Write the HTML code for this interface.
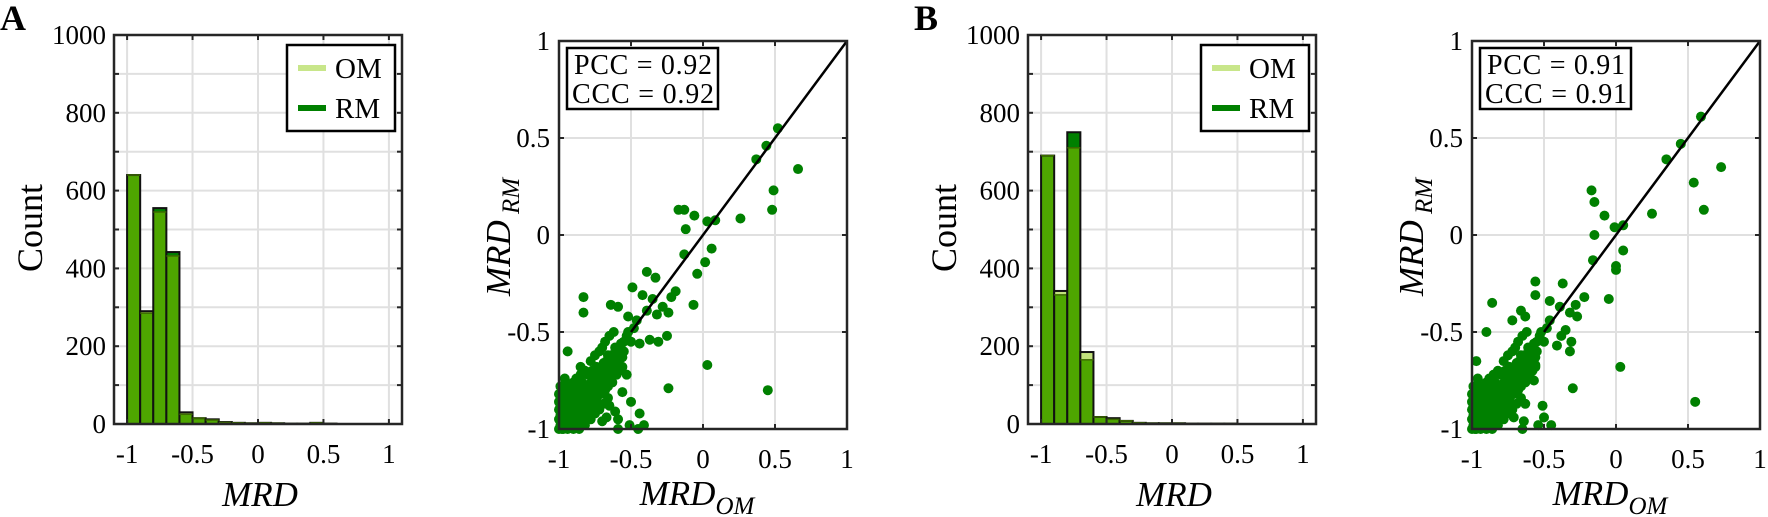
<!DOCTYPE html>
<html><head><meta charset="utf-8">
<style>
body{margin:0;background:#fff;}
svg{display:block;font-family:"Liberation Serif",serif;}
</style></head>
<body>
<svg id="fig" width="1768" height="517" viewBox="0 0 1768 517" xmlns="http://www.w3.org/2000/svg">
<text x="0" y="30" font-size="36" font-weight="bold">A</text>
<text x="914" y="30" font-size="36" font-weight="bold">B</text>
</svg>
<script>
const binStarts = [-1,-0.9,-0.8,-0.7,-0.6,-0.5,-0.4,-0.3,-0.2,-0.1,0,0.1,0.2,0.3,0.4,0.5,0.6,0.7,0.8,0.9];
const histA_OM = [640,290,545,432,30,15,10,4,3,2,3,2,1,1,3,1,0,0,0,0];
const histA_RM = [640,285,555,442,25,15,12,5,3,2,3,2,1,1,3,1,0,0,0,0];
const histB_OM = [690,342,710,185,18,12,8,3,2,2,2,1,1,1,1,0,0,0,0,0];
const histB_RM = [690,332,750,165,18,15,8,3,2,2,2,1,1,1,1,0,0,0,0,0];
const histYTicks = [0,200,400,600,800,1000];
const histXTicks = [-1,-0.5,0,0.5,1];
const scatTicks = [-1,-0.5,0,0.5,1];
const statsA = ["PCC = 0.92","CCC = 0.92"];
const statsB = ["PCC = 0.91","CCC = 0.91"];
const clusterA = [[-1,-1],[-0.98,-0.97],[-0.97,-1],[-0.99,-0.93],[-0.96,-0.95],[-0.95,-0.99],[-0.94,-0.9],[-0.93,-0.96],[-0.92,-0.92],[-0.91,-0.87],[-0.9,-0.95],[-0.89,-0.9],[-0.88,-0.84],[-0.87,-0.93],[-0.86,-0.88],[-0.85,-0.82],[-0.84,-0.9],[-0.83,-0.86],[-0.82,-0.8],[-0.81,-0.88],[-0.8,-0.84],[-0.79,-0.77],[-0.78,-0.85],[-0.77,-0.8],[-0.76,-0.74],[-0.75,-0.82],[-0.74,-0.78],[-0.73,-0.71],[-0.72,-0.79],[-0.71,-0.75],[-0.7,-0.68],[-0.69,-0.76],[-0.68,-0.72],[-0.67,-0.65],[-0.66,-0.73],[-0.65,-0.69],[-0.64,-0.62],[-0.63,-0.7],[-0.62,-0.66],[-0.6,-0.6],[-0.58,-0.64],[-0.57,-0.56],[-0.55,-0.6],[-0.53,-0.52],[-0.5,-0.55],[-0.48,-0.48],[-0.46,-0.44],[-0.98,-0.85],[-0.96,-0.8],[-0.92,-0.78],[-0.88,-0.74],[-0.85,-0.72],[-0.82,-0.7],[-0.78,-0.65],[-0.75,-0.62],[-0.72,-0.6],[-0.7,-0.58],[-0.68,-0.55],[-0.65,-0.52],[-0.62,-0.5],[-0.99,-0.98],[-0.97,-0.9],[-0.95,-0.86],[-0.93,-0.83],[-0.9,-0.8],[-0.88,-0.98],[-0.85,-0.95],[-0.82,-0.93],[-0.8,-0.9],[-0.77,-0.88],[-0.74,-0.85],[-0.71,-0.82],[-0.68,-0.8],[-0.66,-0.78],[-0.63,-0.76],[-0.6,-0.72],[-0.58,-0.7],[-0.56,-0.68],[-1,-0.9],[-1,-0.95],[-0.98,-1],[-0.94,-1],[-0.9,-1],[-0.86,-1],[-0.82,-0.98],[-0.78,-0.95],[-0.75,-0.92],[-0.72,-0.9],[-0.69,-0.87],[-0.66,-0.84],[-0.97,-0.96],[-0.95,-0.93],[-0.93,-0.9],[-0.91,-0.93],[-0.89,-0.86],[-0.87,-0.82],[-0.86,-0.92],[-0.84,-0.84],[-0.83,-0.78],[-0.81,-0.83],[-0.79,-0.81],[-0.77,-0.75],[-0.76,-0.84],[-0.74,-0.72],[-0.73,-0.8],[-0.71,-0.7],[-0.7,-0.77],[-0.69,-0.66],[-0.67,-0.7],[-0.66,-0.62],[-0.64,-0.67],[-0.62,-0.63],[-0.61,-0.58],[-0.59,-0.62],[-0.57,-0.6],[-0.55,-0.55],[-0.52,-0.5],[-0.99,-0.88],[-0.97,-0.83],[-0.95,-0.78],[-0.92,-0.85],[-0.9,-0.76],[-0.87,-0.78],[-0.84,-0.76],[-0.8,-0.72],[-0.77,-0.7],[-0.74,-0.68],[-0.92,-0.97],[-0.89,-0.95],[-0.87,-0.97],[-0.84,-0.97],[-0.8,-0.95],[-0.77,-0.92],[-0.73,-0.88],[-1,-0.86],[-1,-0.82],[-0.99,-0.78],[-0.96,-0.74],[-0.94,-0.97],[-0.96,-0.91],[-0.91,-0.83],[-0.79,-0.86],[-0.75,-0.78],[-0.71,-0.78],[-0.68,-0.75],[-0.65,-0.74],[-0.62,-0.7],[-0.6,-0.66],[-0.58,-0.58],[-0.56,-0.63]];
const outA = [[0.52,0.55],[0.44,0.46],[0.37,0.39],[0.66,0.34],[0.49,0.23],[0.48,0.13],[0.26,0.085],[0.085,0.076],[0.03,0.07],[-0.06,0.1],[-0.17,0.13],[-0.13,0.13],[-0.12,0.03],[0.06,-0.07],[-0.13,-0.1],[0.015,-0.14],[-0.04,-0.2],[-0.066,-0.36],[-0.39,-0.19],[-0.33,-0.22],[-0.49,-0.27],[-0.42,-0.31],[-0.35,-0.33],[-0.19,-0.29],[-0.22,-0.32],[-0.83,-0.32],[-0.83,-0.4],[-0.64,-0.36],[-0.59,-0.37],[-0.28,-0.37],[-0.24,-0.4],[-0.52,-0.42],[-0.39,-0.39],[-0.32,-0.41],[-0.25,-0.52],[-0.37,-0.54],[-0.31,-0.55],[-0.44,-0.56],[0.03,-0.67],[-0.24,-0.79],[0.45,-0.8],[-0.94,-0.6],[-0.5,-0.86],[-0.44,-0.92],[-0.41,-0.98],[-0.45,-1],[-0.51,-0.98],[-0.59,-1],[-0.59,-0.95],[-0.67,-0.94],[-0.7,-0.96],[-0.61,-0.91],[-0.65,-0.88],[-0.53,-0.72],[-0.56,-0.81],[-0.85,-0.68]];
const clusterB = [[-1,-1],[-0.98,-0.97],[-0.97,-1],[-0.99,-0.93],[-0.96,-0.95],[-0.95,-0.99],[-0.94,-0.9],[-0.93,-0.96],[-0.92,-0.92],[-0.91,-0.87],[-0.9,-0.95],[-0.89,-0.9],[-0.88,-0.84],[-0.87,-0.93],[-0.86,-0.88],[-0.85,-0.82],[-0.84,-0.9],[-0.83,-0.86],[-0.82,-0.8],[-0.81,-0.88],[-0.8,-0.84],[-0.79,-0.77],[-0.78,-0.85],[-0.77,-0.8],[-0.76,-0.74],[-0.75,-0.82],[-0.74,-0.78],[-0.73,-0.71],[-0.72,-0.79],[-0.71,-0.75],[-0.7,-0.68],[-0.69,-0.76],[-0.68,-0.72],[-0.67,-0.65],[-0.66,-0.73],[-0.65,-0.69],[-0.64,-0.62],[-0.63,-0.7],[-0.62,-0.66],[-0.6,-0.6],[-0.58,-0.64],[-0.57,-0.56],[-0.55,-0.6],[-0.53,-0.52],[-0.5,-0.55],[-0.48,-0.48],[-0.46,-0.44],[-0.98,-0.85],[-0.96,-0.8],[-0.92,-0.78],[-0.88,-0.74],[-0.85,-0.72],[-0.82,-0.7],[-0.78,-0.65],[-0.75,-0.62],[-0.72,-0.6],[-0.7,-0.58],[-0.68,-0.55],[-0.65,-0.52],[-0.62,-0.5],[-0.99,-0.98],[-0.97,-0.9],[-0.95,-0.86],[-0.93,-0.83],[-0.9,-0.8],[-0.88,-0.98],[-0.85,-0.95],[-0.82,-0.93],[-0.8,-0.9],[-0.77,-0.88],[-0.74,-0.85],[-0.71,-0.82],[-0.68,-0.8],[-0.66,-0.78],[-0.63,-0.76],[-0.6,-0.72],[-0.58,-0.7],[-0.56,-0.68],[-1,-0.9],[-1,-0.95],[-0.98,-1],[-0.94,-1],[-0.9,-1],[-0.86,-1],[-0.82,-0.98],[-0.78,-0.95],[-0.75,-0.92],[-0.72,-0.9],[-0.69,-0.87],[-0.66,-0.84],[-0.97,-0.96],[-0.95,-0.93],[-0.93,-0.9],[-0.91,-0.93],[-0.89,-0.86],[-0.87,-0.82],[-0.86,-0.92],[-0.84,-0.84],[-0.83,-0.78],[-0.81,-0.83],[-0.79,-0.81],[-0.77,-0.75],[-0.76,-0.84],[-0.74,-0.72],[-0.73,-0.8],[-0.71,-0.7],[-0.7,-0.77],[-0.69,-0.66],[-0.67,-0.7],[-0.66,-0.62],[-0.64,-0.67],[-0.62,-0.63],[-0.61,-0.58],[-0.59,-0.62],[-0.57,-0.6],[-0.55,-0.55],[-0.52,-0.5],[-0.99,-0.88],[-0.97,-0.83],[-0.95,-0.78],[-0.92,-0.85],[-0.9,-0.76],[-0.87,-0.78],[-0.84,-0.76],[-0.8,-0.72],[-0.77,-0.7],[-0.74,-0.68],[-0.92,-0.97],[-0.89,-0.95],[-0.87,-0.97],[-0.84,-0.97],[-0.8,-0.95],[-0.77,-0.92],[-0.73,-0.88],[-1,-0.86],[-1,-0.82],[-0.99,-0.78],[-0.96,-0.74],[-0.94,-0.97],[-0.96,-0.91],[-0.91,-0.83],[-0.79,-0.86],[-0.75,-0.78],[-0.71,-0.78],[-0.68,-0.75],[-0.65,-0.74],[-0.62,-0.7],[-0.6,-0.66],[-0.58,-0.58],[-0.56,-0.63]];
const outB = [[0.59,0.61],[0.45,0.47],[0.35,0.39],[0.73,0.35],[0.54,0.27],[0.61,0.13],[0.25,0.11],[0.05,0.05],[-0.01,0.04],[-0.08,0.1],[-0.17,0.23],[-0.15,0.17],[-0.15,0],[0.05,-0.08],[-0.16,-0.13],[0,-0.16],[0,-0.18],[-0.05,-0.33],[-0.56,-0.24],[-0.37,-0.25],[-0.56,-0.31],[-0.46,-0.34],[-0.22,-0.32],[-0.28,-0.36],[-0.27,-0.42],[-0.32,-0.4],[-0.39,-0.37],[-0.86,-0.35],[-0.9,-0.5],[-0.72,-0.44],[-0.66,-0.39],[-0.63,-0.42],[-0.35,-0.49],[-0.31,-0.55],[-0.32,-0.6],[-0.41,-0.57],[-0.38,-0.52],[0.03,-0.68],[-0.3,-0.79],[0.55,-0.86],[-0.97,-0.65],[-0.51,-0.88],[-0.5,-0.94],[-0.45,-0.98],[-0.54,-0.98],[-0.65,-1],[-0.64,-0.96],[-0.71,-0.94],[-0.63,-0.87],[-0.57,-0.75],[-0.56,-0.67]];

const NS="http://www.w3.org/2000/svg";
const svg=document.getElementById('fig');
function mk(tag,attrs,parent,txt){const e=document.createElementNS(NS,tag);for(const k in attrs)e.setAttribute(k,attrs[k]);if(txt!==undefined)e.textContent=txt;(parent||svg).appendChild(e);return e;}
const fmt=v=>String(v);
const TF=27;

function histogram(ox,om,rm,pfx){
  const L=ox,R=ox+288,T=35,B=424;
  const xs=v=>L+(v+1.1)/2.2*(R-L);
  const ys=v=>B-v/1000*(B-T);
  const g=mk('g',{});
  
  
  for(let v=0;v<=1000;v+=100){const l=mk('line',{x1:L,x2:R,y1:ys(v),y2:ys(v),stroke:'#e0e0e0','stroke-width':2},g);}
  for(const v of histXTicks){const l=mk('line',{x1:xs(v),x2:xs(v),y1:T,y2:B,stroke:'#e0e0e0','stroke-width':2},g);}
  const w=0.1;
  binStarts.forEach((s,i)=>{
    const a=om[i],b=rm[i];if(a<=0&&b<=0)return;
    const x0=xs(s),x1=xs(s+w),lo=Math.min(a,b),hi=Math.max(a,b);
    const ov=mk('rect',{x:x0,y:ys(lo),width:x1-x0,height:ys(0)-ys(lo),fill:'#4ea600'},g);
    
    if(hi>lo){const ex=mk('rect',{x:x0,y:ys(hi),width:x1-x0,height:ys(lo)-ys(hi),fill:(a>b?'#c2e27c':'#008000')},g);}
    const ol=mk('rect',{x:x0,y:ys(hi),width:x1-x0,height:ys(0)-ys(hi),fill:'none',stroke:'#111','stroke-width':2},g);
    
    mk('line',{x1:x0,x2:x1,y1:ys(lo),y2:ys(lo),stroke:'#3d6b00','stroke-width':1.5},g);
  });
  for(let v=0;v<=1000;v+=100){mk('line',{x1:L,x2:L+5,y1:ys(v),y2:ys(v),stroke:'#262626','stroke-width':2},g);mk('line',{x1:R-5,x2:R,y1:ys(v),y2:ys(v),stroke:'#262626','stroke-width':2},g);}
  for(const v of histXTicks){mk('line',{x1:xs(v),x2:xs(v),y1:B,y2:B-5,stroke:'#262626','stroke-width':2},g);mk('line',{x1:xs(v),x2:xs(v),y1:T,y2:T+5,stroke:'#262626','stroke-width':2},g);}
  const fr=mk('rect',{x:L,y:T,width:R-L,height:B-T,fill:'none',stroke:'#262626','stroke-width':2.5},g);
  
  for(const v of histYTicks){const t=mk('text',{x:L-8,y:ys(v)+9,'font-size':TF,'text-anchor':'end'},g,fmt(v));}
  for(const v of histXTicks){const t=mk('text',{x:xs(v),y:463,'font-size':TF,'text-anchor':'middle'},g,fmt(v));}
  const yl=mk('text',{x:0,y:0,'font-size':36,'text-anchor':'middle',transform:`translate(${L-72},228) rotate(-90)`},g,'Count');
  
  const xl=mk('text',{x:(L+R)/2+2,y:506,'font-size':35,'font-style':'italic','text-anchor':'middle'},g,'MRD');
  
  const lg=mk('g',{},g);
  mk('rect',{x:L+173,y:45,width:108,height:86,fill:'#fff',stroke:'#000','stroke-width':2.5},lg);
  const e1=mk('g',{},lg);
  mk('line',{x1:L+184,x2:L+212,y1:68,y2:68,stroke:'#c8e68a','stroke-width':6},e1);
  mk('text',{x:L+221,y:78,'font-size':29},e1,'OM');
  const e2=mk('g',{},lg);
  mk('line',{x1:L+184,x2:L+212,y1:108,y2:108,stroke:'#008000','stroke-width':6},e2);
  mk('text',{x:L+221,y:118,'font-size':29},e2,'RM');
}

function scatter(ox,cl,out,stats,pfx){
  const L=ox,R=ox+288,T=41,B=429;
  const xs=v=>L+(v+1)/2*(R-L);
  const ys=v=>B-(v+1)/2*(B-T);
  const g=mk('g',{});
  
  
  for(const v of scatTicks){
    const a=mk('line',{x1:L,x2:R,y1:ys(v),y2:ys(v),stroke:'#e0e0e0','stroke-width':2},g);
    const b=mk('line',{x1:xs(v),x2:xs(v),y1:T,y2:B,stroke:'#e0e0e0','stroke-width':2},g);
  }
  const pts=mk('g',{fill:'#008000'},g);
  for(const p of cl.concat(out)){const c=mk('circle',{cx:xs(p[0]),cy:ys(p[1]),r:5},pts);}
  const dl=mk('line',{x1:xs(-0.5),y1:ys(-0.5),x2:xs(1),y2:ys(1),stroke:'#000','stroke-width':2.5},g);
  
  for(const v of scatTicks){
    mk('line',{x1:L,x2:L+5,y1:ys(v),y2:ys(v),stroke:'#262626','stroke-width':2},g);mk('line',{x1:R-5,x2:R,y1:ys(v),y2:ys(v),stroke:'#262626','stroke-width':2},g);
    mk('line',{x1:xs(v),x2:xs(v),y1:B,y2:B-5,stroke:'#262626','stroke-width':2},g);mk('line',{x1:xs(v),x2:xs(v),y1:T,y2:T+5,stroke:'#262626','stroke-width':2},g);
  }
  const fr=mk('rect',{x:L,y:T,width:R-L,height:B-T,fill:'none',stroke:'#262626','stroke-width':2.5},g);
  
  for(const v of scatTicks){
    const t=mk('text',{x:L-9,y:ys(v)+9,'font-size':TF,'text-anchor':'end'},g,fmt(v));
    const u=mk('text',{x:xs(v),y:468,'font-size':TF,'text-anchor':'middle'},g,fmt(v));
  }
  const sb=mk('g',{},g);
  mk('rect',{x:L+8,y:48,width:151,height:61,fill:'#fff',stroke:'#000','stroke-width':2.5},sb);
  mk('text',{x:L+84,y:74,'font-size':28,'text-anchor':'middle','textLength':138},sb,stats[0]);
  mk('text',{x:L+84,y:103,'font-size':28,'text-anchor':'middle','textLength':142},sb,stats[1]);
  const xl=mk('text',{x:(L+R)/2-6,y:505,'font-size':35,'font-style':'italic','text-anchor':'middle'},g);
  
  mk('tspan',{},xl,'MRD');mk('tspan',{dy:9,'font-size':25},xl,'OM');
  const yl=mk('text',{x:0,y:0,'font-size':35,'font-style':'italic','text-anchor':'middle',transform:`translate(${L-49},237) rotate(-90)`},g);
  
  mk('tspan',{},yl,'MRD');mk('tspan',{dy:9,'font-size':25},yl,' RM');
}

histogram(114,histA_OM,histA_RM,'panel-a');
scatter(559,clusterA,outA,statsA,'panel-a');
histogram(1028,histB_OM,histB_RM,'panel-b');
scatter(1472,clusterB,outB,statsB,'panel-b');
</script>
</body></html>
